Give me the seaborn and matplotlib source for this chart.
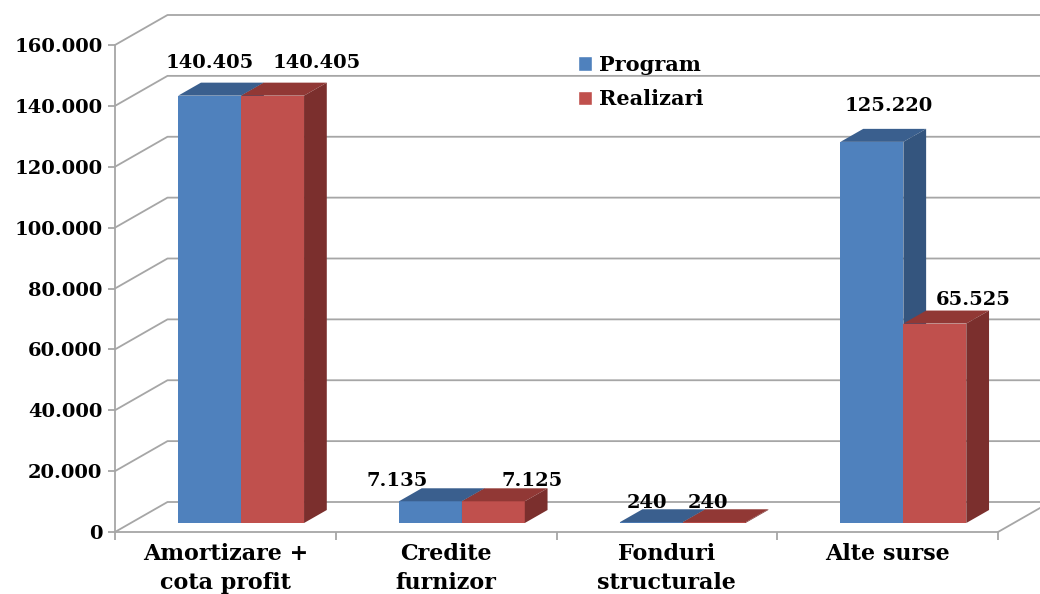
import numpy as np
import pandas as pd
import matplotlib
matplotlib.use("Agg")
import matplotlib.pyplot as plt
import seaborn as sns
from matplotlib.patches import Patch, Polygon
from matplotlib.lines import Line2D
from matplotlib.ticker import FuncFormatter, FixedLocator
from matplotlib.transforms import IdentityTransform, offset_copy

# data
categorii = ["Amortizare +\ncota profit", "Credite\nfurnizor", "Fonduri\nstructurale", "Alte surse"]
serii = ["Program", "Realizari"]
program = [140405, 7135, 240, 125220]
realizari = [140405, 7125, 240, 65525]

# label nudges in pixels (dx, dy) per series, per category
nudge_program = [(0, 6), (-33, -7), (-4, -8), (17, 9)]
nudge_realizari = [(44, 6), (39, -7), (-6, -8), (38, -3)]

blue, blue_top, blue_side = "#4F81BD", "#3A5F8E", "#34557E"
red, red_top, red_side = "#C0504D", "#913835", "#7B2F2D"
grid_col = "#A6A6A6"
font = ["DejaVu Serif"]

df = pd.DataFrame({
    "categorie": categorii * 2,
    "serie": [serii[0]] * 4 + [serii[1]] * 4,
    "valoare": program + realizari,
})

sns.set_style("white")
plt.rcParams["font.family"] = font
plt.rcParams["font.weight"] = "bold"
plt.rcParams["text.color"] = "black"
plt.rcParams["xtick.labelcolor"] = "black"
plt.rcParams["ytick.labelcolor"] = "black"

W, H = 1040, 594
fig = plt.figure(figsize=(W / 100, H / 100), dpi=100)
ax = fig.add_axes([115 / W, 62 / H, 883 / W, 487 / H])

sns.barplot(data=df, x="categorie", y="valoare", hue="serie", palette=[blue, red],
            width=0.57, saturation=1, legend=False, ax=ax)
ax.set_xlim(-0.5, 3.5)
ax.set_ylim(0, 160000)

# depth geometry (pixels): wall at 30, bars between 9 and 22
DX = 1.75
D_FRONT, D_BACK, D_WALL = 9, 22, 30


def px(x, y, d):
    p = ax.transData.transform((x, y))
    return (p[0] + DX * d, p[1] + d)


ident = IdentityTransform()

# side wall + back wall gridlines
for yv in range(0, 160001, 20000):
    a = px(-0.5, yv, 0)
    b = px(-0.5, yv, D_WALL)
    c = px(3.5, yv, D_WALL)
    ax.add_line(Line2D([a[0], b[0], c[0] + 60], [a[1], b[1], c[1]], color=grid_col,
                       lw=1.3, transform=ident, clip_on=False, zorder=0.5))
# floor right edge
a = px(3.5, 0, 0)
b = px(3.5, 0, D_WALL)
ax.add_line(Line2D([a[0], b[0]], [a[1], b[1]], color=grid_col, lw=1.3,
                   transform=ident, clip_on=False, zorder=0.5))

# 3D faces of the bars
shift = offset_copy(ax.transData, fig=fig, x=DX * D_FRONT, y=D_FRONT, units="dots")
n = len(categorii)
for i, bar in enumerate(ax.patches):
    s = i // n
    top_c, side_c = (blue_top, blue_side) if s == 0 else (red_top, red_side)
    bar.set_transform(shift)
    bar.set_edgecolor("none")
    bar.set_zorder(2 + s)
    x0, w, h = bar.get_x(), bar.get_width(), bar.get_height()
    x1 = x0 + w
    top = [px(x0, h, D_FRONT), px(x1, h, D_FRONT), px(x1, h, D_BACK), px(x0, h, D_BACK)]
    side = [px(x1, 0, D_FRONT), px(x1, h, D_FRONT), px(x1, h, D_BACK), px(x1, 0, D_BACK)]
    for poly, col in ((top, top_c), (side, side_c)):
        ax.add_patch(Polygon(poly, closed=True, facecolor=col, edgecolor="none",
                             transform=ident, clip_on=False, zorder=2 + s))
    # value label
    vals = program if s == 0 else realizari
    ndx, ndy = (nudge_program if s == 0 else nudge_realizari)[i % n]
    cx, cy = px(x0 + w / 2, h, D_FRONT)
    ax.text(cx + ndx, cy + 27 + ndy, f"{vals[i % n]:,.0f}".replace(",", "."),
            transform=ident, ha="center", va="center", fontsize=14,
            fontweight="bold", color="black", zorder=5)

# axes styling
for sp in ["top", "right"]:
    ax.spines[sp].set_visible(False)
for sp in ["left", "bottom"]:
    ax.spines[sp].set_color(grid_col)
    ax.spines[sp].set_linewidth(1.3)
    ax.spines[sp].set_zorder(1)

ax.yaxis.set_major_locator(FixedLocator(range(0, 160001, 20000)))
ax.yaxis.set_major_formatter(FuncFormatter(lambda v, p: f"{v:,.0f}".replace(",", ".")))
ax.tick_params(axis="y", direction="out", length=5, width=1.3, color=grid_col,
               labelsize=14, pad=4, left=True, labelcolor="black")
ax.set_xticks(range(n))
ax.set_xticklabels(categorii)
ax.xaxis.set_minor_locator(FixedLocator([-0.5, 0.5, 1.5, 2.5, 3.5]))
ax.tick_params(axis="x", which="major", length=0, labelsize=16, pad=8, labelcolor="black")
ax.tick_params(axis="x", which="minor", direction="out", length=6, width=1.3,
               color=grid_col, bottom=True)
for t in ax.get_xticklabels() + ax.get_yticklabels():
    t.set_fontweight("bold")
    t.set_color("black")
for t in ax.get_xticklabels():
    t.set_linespacing(1.4)
ax.set_xlabel("")
ax.set_ylabel("")

handles = [Patch(facecolor=blue), Patch(facecolor=red)]
fig.legend(handles, serii, loc="upper left", bbox_to_anchor=(559 / W, 1 - 36 / H),
           frameon=False, handlelength=0.7, handleheight=0.7, handletextpad=0.3,
           labelspacing=0.7, labelcolor="black",
           prop={"family": font, "weight": "bold", "size": 15})

fig.savefig("out.png", dpi=100)
